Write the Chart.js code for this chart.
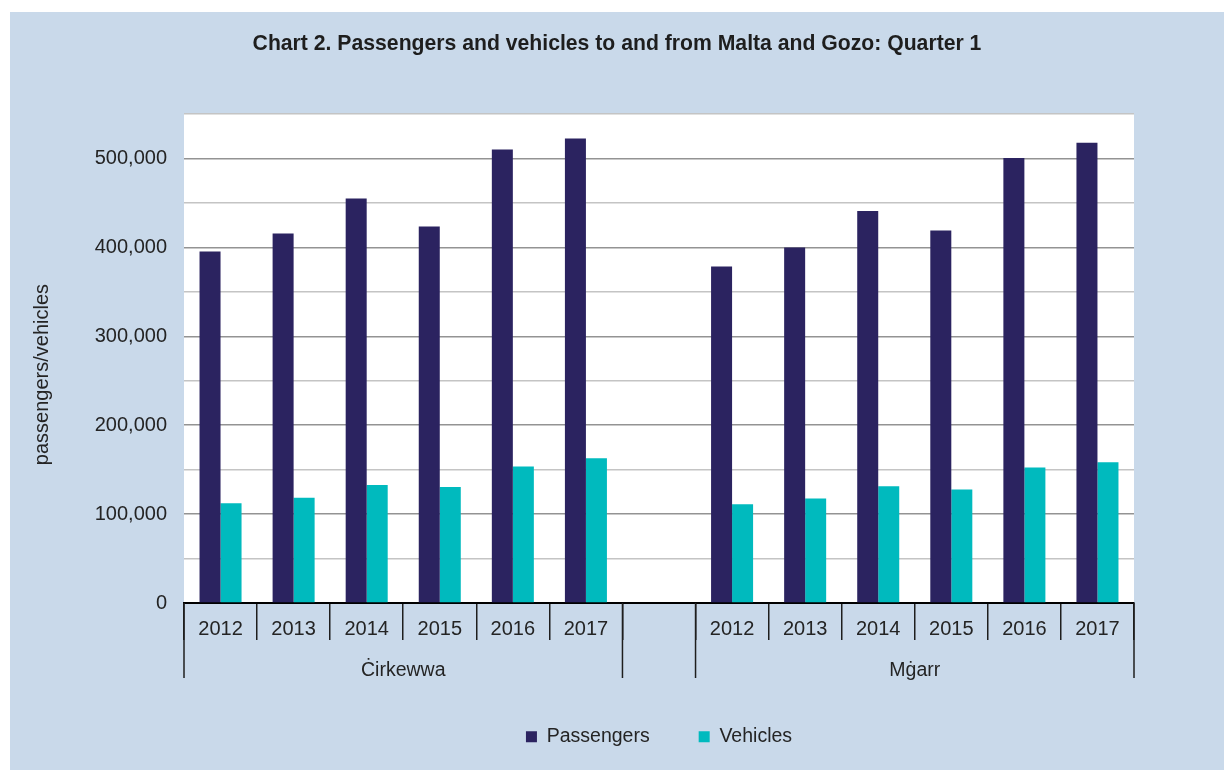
<!DOCTYPE html>
<html>
<head>
<meta charset="utf-8">
<script src="https://cdn.jsdelivr.net/npm/chart.js@4"></script>
<style>
    html, body { margin: 0; padding: 0; background: #ffffff; }
    #panel {
        position: absolute;
        left: 10px;
        top: 12px;
        width: 1214px;
        height: 758px;
        background: #c9d9ea;
    }
</style>
</head>
<body>
<div id="panel"><canvas id="chart"></canvas></div>
<script>
// 数据
const years = ['2012', '2013', '2014', '2015', '2016', '2017'];
const ports = ['Ċirkewwa', 'Mġarr'];
const cirkewwaPassengers = [395500, 415500, 455000, 423500, 510000, 522500];
const cirkewwaVehicles = [112300, 118300, 132700, 130400, 153400, 162900];
const mgarrPassengers = [378500, 400000, 441000, 419000, 500500, 517700];
const mgarrVehicles = [111200, 117600, 131200, 127800, 152300, 158400];

// 13 个类别：6 年 + 空位 + 6 年
const labels = [...years, '', ...years];
const passengers = [...cirkewwaPassengers, null, ...mgarrPassengers];
const vehicles = [...cirkewwaVehicles, null, ...mgarrVehicles];
const groups = [
    { name: ports[0], from: 0, to: years.length - 1 },
    { name: ports[1], from: years.length + 1, to: labels.length - 1 }
];
const yTitle = 'passengers/vehicles';

const fontFamily = "'Liberation Sans', Arial, sans-serif";
const textColor = '#242424';

// 绘图区白色背景
const plotBackground = {
    id: 'plotBackground',
    beforeDraw(chart) {
        const { ctx, chartArea: a } = chart;
        ctx.save();
        ctx.fillStyle = '#ffffff';
        ctx.fillRect(a.left, a.top, a.right - a.left, a.bottom - a.top);
        ctx.restore();
    }
};

// 分组分隔线、分组名称和纵轴标题
const axisDecor = {
    id: 'axisDecor',
    afterDraw(chart) {
        const { ctx, chartArea } = chart;
        const x = chart.scales.x;
        const step = x.getPixelForValue(1) - x.getPixelForValue(0);
        const bottom = x.top + 75;
        const edge = i => x.getPixelForValue(i) - step / 2;

        const cuts = [];
        groups.forEach(g => {
            cuts.push(edge(g.from));
            cuts.push(edge(g.to + 1));
        });

        ctx.save();
        ctx.strokeStyle = '#1e1e1e';
        ctx.lineWidth = 1.5;
        cuts.forEach(px => {
            ctx.beginPath();
            ctx.moveTo(px, x.top);
            ctx.lineTo(px, bottom);
            ctx.stroke();
        });

        ctx.fillStyle = textColor;
        ctx.font = '19.5px ' + fontFamily;
        ctx.textAlign = 'center';
        ctx.textBaseline = 'middle';
        groups.forEach(g => {
            const cx = (edge(g.from) + edge(g.to + 1)) / 2;
            ctx.fillText(g.name, cx, x.top + 68);
        });

        // 纵轴标题（比绘图区中心略低）
        ctx.font = '20px ' + fontFamily;
        ctx.translate(32, (chartArea.top + chartArea.bottom) / 2 + 16);
        ctx.rotate(-Math.PI / 2);
        ctx.fillText(yTitle, 0, 0);
        ctx.restore();
    }
};

const ctx = document.getElementById('chart').getContext('2d');
window.portChart = new Chart(ctx, {
    type: 'bar',
    data: {
        labels: labels,
        datasets: [{
            label: 'Passengers',
            data: passengers,
            backgroundColor: '#2b2360',
            borderWidth: 0
        }, {
            label: 'Vehicles',
            data: vehicles,
            backgroundColor: '#00babe',
            borderWidth: 0
        }]
    },
    options: {
        responsive: true,
        maintainAspectRatio: false,
        animation: false,
        categoryPercentage: 0.575,
        barPercentage: 1,
        layout: {
            padding: { left: 0, right: 0, top: 0, bottom: 13.5 }
        },
        plugins: {
            title: {
                display: true,
                text: 'Chart 2. Passengers and vehicles to and from Malta and Gozo: Quarter 1',
                color: '#1e1e1e',
                font: { family: fontFamily, size: 21.2, weight: 'bold' },
                padding: { top: 19.4, bottom: 57.2 }
            },
            legend: {
                position: 'bottom',
                fullSize: false,
                labels: {
                    color: textColor,
                    font: { family: fontFamily, size: 19.5 },
                    boxWidth: 11,
                    boxHeight: 11,
                    padding: 49
                }
            },
            tooltip: { enabled: false }
        },
        scales: {
            x: {
                grid: {
                    drawOnChartArea: false,
                    drawTicks: true,
                    tickLength: 37,
                    color: '#1e1e1e',
                    lineWidth: 1.5
                },
                border: { display: true, color: '#000000', width: 2 },
                ticks: {
                    color: textColor,
                    font: { family: fontFamily, size: 20 },
                    padding: -22.5,
                    autoSkip: false,
                    maxRotation: 0
                },
                afterFit(axis) {
                    axis.height = 75;
                }
            },
            y: {
                min: 0,
                max: 550000,
                grid: {
                    drawTicks: false,
                    color: c => (c.tick && c.tick.value % 100000 === 0) ? '#939393' : '#c4c4c4',
                    lineWidth: 1.5
                },
                border: { display: false },
                ticks: {
                    stepSize: 50000,
                    padding: 17,
                    color: textColor,
                    font: { family: fontFamily, size: 20 },
                    callback: v => v % 100000 === 0 ? v.toLocaleString('en-US') : ''
                },
                afterFit(axis) {
                    axis.width = 174;
                }
            },
            // 右侧留白，用空轴占位，使标题仍按整幅居中
            yRight: {
                position: 'right',
                display: true,
                grid: { display: false, drawTicks: false },
                border: { display: false },
                ticks: { display: false },
                afterFit(axis) {
                    axis.width = 90;
                }
            }
        }
    },
    plugins: [plotBackground, axisDecor]
});
</script>
</body>
</html>
